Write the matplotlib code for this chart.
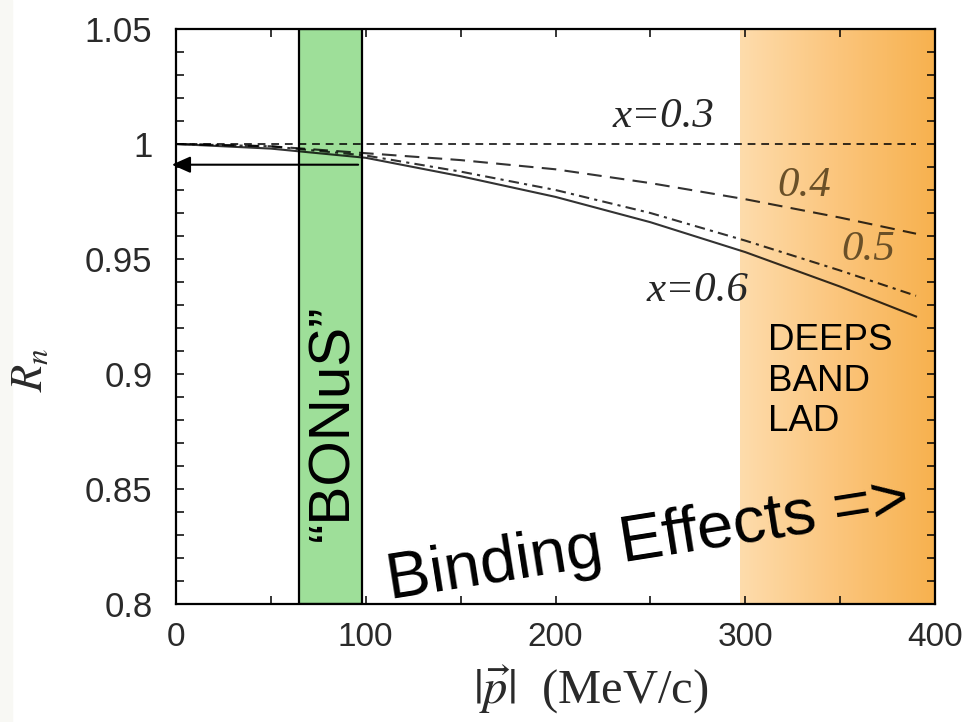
import matplotlib
matplotlib.use("Agg")
import matplotlib.pyplot as plt
from matplotlib import font_manager as fm
from matplotlib.colors import LinearSegmentedColormap
from matplotlib.patches import Rectangle
from matplotlib.ticker import MultipleLocator
import numpy as np

p = [0, 50, 100, 150, 200, 250, 300, 350, 390]
r_03 = [1.000, 1.000, 1.000, 1.000, 1.000, 1.000, 1.000, 1.000, 1.000]
r_04 = [1.000, 0.999, 0.996, 0.993, 0.989, 0.983, 0.976, 0.968, 0.961]
r_05 = [1.000, 0.999, 0.995, 0.988, 0.980, 0.970, 0.958, 0.945, 0.934]
r_06 = [1.000, 0.998, 0.994, 0.986, 0.977, 0.966, 0.953, 0.938, 0.925]

bonus_range = [65, 98]
deeps_range = [297, 400]
arrow_from = 96
arrow_y = 0.991

plt.rcParams['mathtext.fontset'] = 'stix'


def pick_font(names):
    for n in names:
        try:
            fm.findfont(fm.FontProperties(family=n), fallback_to_default=False)
            return n
        except Exception:
            pass
    return 'DejaVu Sans'


narrow = pick_font(['Liberation Sans Narrow', 'Arial Narrow', 'Liberation Sans'])

fig = plt.figure(figsize=(9.64, 7.22), dpi=100)
fig.patches.append(Rectangle((0, 0), 12 / 964, 1, transform=fig.transFigure,
                             color='#f8f8f4', zorder=0))
ax = fig.add_axes([176 / 964, 1 - 604 / 722, (935 - 176) / 964, (604 - 29) / 722])
ax.set_xlim(0, 400)
ax.set_ylim(0.8, 1.05)

# orange gradient band
cmap = LinearSegmentedColormap.from_list('org', ['#fedcac', '#fbc57c', '#f7b14e'])
grad = np.linspace(0, 1, 256).reshape(1, -1)
ax.imshow(grad, extent=[deeps_range[0], deeps_range[1], 0.8, 1.05], aspect='auto',
          cmap=cmap, zorder=0.5, interpolation='bilinear')

# green band
ax.add_patch(Rectangle((bonus_range[0], 0.8), bonus_range[1] - bonus_range[0], 0.25,
                       facecolor='#9edf99', edgecolor='black', lw=1.6, zorder=1))

lc = 'black'
ax.plot(p, r_03, color=lc, lw=1.4, ls=(0, (4, 3)), alpha=0.8, zorder=3)
ax.plot(p, r_04, color=lc, lw=1.5, ls=(0, (7, 4)), alpha=0.8, zorder=3)
ax.plot(p, r_05, color=lc, lw=1.5, ls=(0, (5, 2.5, 1.5, 2.5)), alpha=0.8, zorder=3)
ax.plot(p, r_06, color=lc, lw=1.5, ls='-', alpha=0.8, zorder=3)

lab = dict(family='Liberation Serif', style='italic', fontsize=31, ha='center',
           va='center', zorder=4)
ax.text(257, 1.0117, 'x=0.3', color='#262626', **lab)
ax.text(331, 0.982, '0.4', color='#6a5028', **lab)
ax.text(365, 0.954, '0.5', color='#6a5028', **lab)
ax.text(275, 0.936, 'x=0.6', color='#262626', **lab)

ax.annotate('', xy=(-2.2, arrow_y), xytext=(arrow_from, arrow_y),
            arrowprops=dict(arrowstyle='-|>,head_length=0.45,head_width=0.2',
                            color='black', lw=1.5, mutation_scale=25,
                            shrinkA=0, shrinkB=0),
            annotation_clip=False, zorder=5)

ax.text(83, 0.879, '\u201cBONuS\u201d', rotation=90, family='Liberation Sans',
        fontsize=42, ha='center', va='center', color='black', zorder=5)
ax.text(312, 0.922, 'DEEPS\nBAND\nLAD', family='Liberation Sans', fontsize=26.5,
        ha='left', va='top', linespacing=1.2, color='black', zorder=5)
ax.text(113, 0.8022, 'Binding Effects =>', rotation=9, rotation_mode='anchor',
        family='Liberation Sans', fontsize=47, ha='left', va='baseline',
        color='black', zorder=6, clip_on=False)

ax.xaxis.set_major_locator(MultipleLocator(100))
ax.xaxis.set_minor_locator(MultipleLocator(50))
ax.yaxis.set_major_locator(MultipleLocator(0.05))
ax.yaxis.set_minor_locator(MultipleLocator(0.01))
ax.set_yticks([0.8, 0.85, 0.9, 0.95, 1.0, 1.05])
ax.set_yticklabels(['0.8', '0.85', '0.9', '0.95', '1', '1.05'])
ax.tick_params(which='both', direction='in', top=True, right=True, length=6, width=1.1)
ax.tick_params(axis='y', labelsize=25, pad=17, labelcolor='#2a2a2a')
ax.tick_params(axis='x', labelsize=24, pad=13, labelcolor='#2a2a2a')
for t in ax.get_yticklabels():
    t.set_family('Liberation Sans')
for t in ax.get_xticklabels():
    t.set_family(narrow)
for s in ax.spines.values():
    s.set_linewidth(1.6)
    s.set_zorder(7)

fig.text(30 / 964, 1 - 370 / 722, '$R_n$', rotation=90, fontsize=32,
         ha='center', va='center', color='#2a2a2a')
fig.text(591 / 964, 1 - 690 / 722, r'$|\vec{p}|$  (MeV/c)', family='Liberation Serif',
         fontsize=35, ha='center', va='center', color='#2a2a2a')

fig.savefig('out.png', dpi=100)
